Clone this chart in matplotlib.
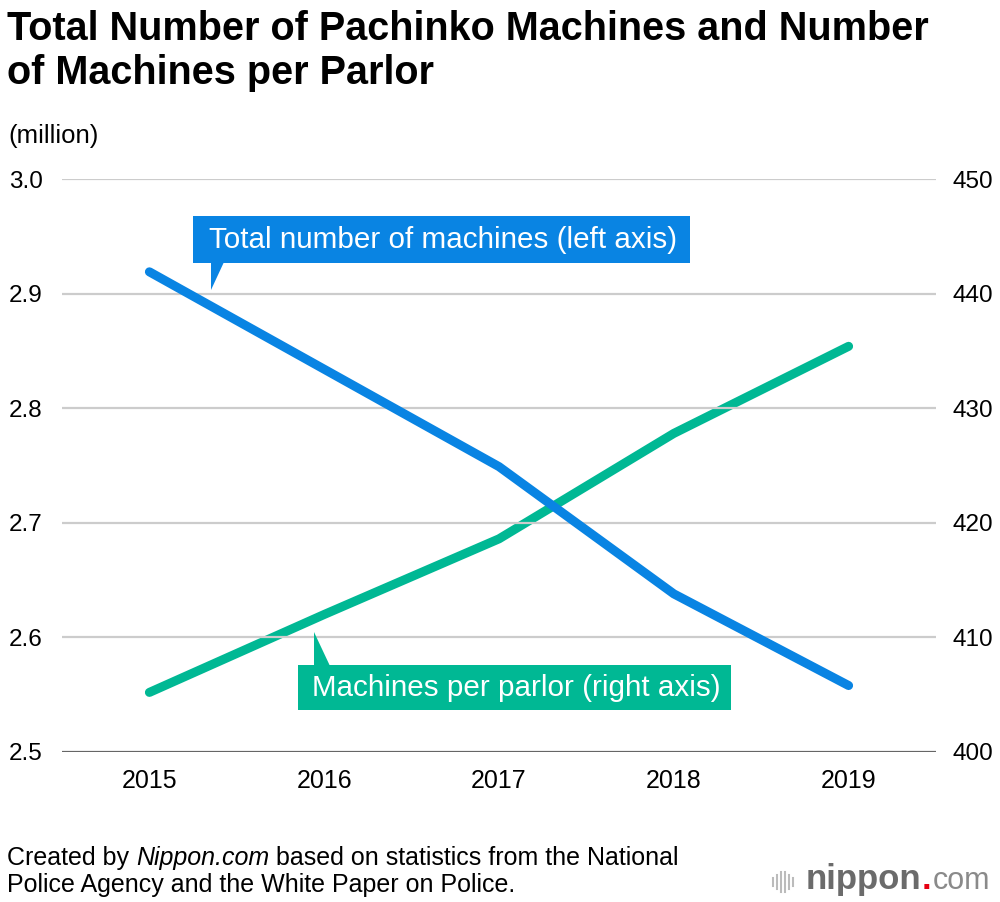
import matplotlib
matplotlib.use("Agg")
import matplotlib.pyplot as plt
from matplotlib.patches import Rectangle, Polygon

# data
years = [2015, 2016, 2017, 2018, 2019]
total_machines = [2.919, 2.834, 2.749, 2.638, 2.558]   # million, left axis
per_parlor = [405.2, 412.0, 418.6, 427.8, 435.4]        # right axis
left_ticks = [2.5, 2.6, 2.7, 2.8, 2.9, 3.0]
right_ticks = [400, 410, 420, 430, 440, 450]

BLUE = "#0984e3"
GREEN = "#00b894"
plt.rcParams["font.family"] = ["Liberation Sans", "DejaVu Sans"]

W, H = 1000, 902
fig = plt.figure(figsize=(W / 100, H / 100), dpi=100)


def fx(x):
    return x / W


def fy(y):
    return 1 - y / H


ax = fig.add_axes([fx(62), fy(752), fx(936) - fx(62), fy(179) - fy(752)])
ax2 = ax.twinx()

ax.set_xlim(2014.5, 2019.5)
ax.set_ylim(2.5, 3.0)
ax2.set_ylim(400, 450)

for v in left_ticks[1:]:
    ax.axhline(v, color="#cccccc", lw=1.6, zorder=0)
ax.axhline(2.5, color="#666666", lw=1.6, zorder=1)

ax.plot(years, total_machines, color=BLUE, lw=6.5, solid_capstyle="round",
        solid_joinstyle="round", zorder=3)
ax2.plot(years, per_parlor, color=GREEN, lw=6.5, solid_capstyle="round",
         solid_joinstyle="round", zorder=3)
ax.set_zorder(ax2.get_zorder() + 1)
ax.patch.set_visible(False)

ax.set_yticks(left_ticks)
ax.set_yticklabels([f"{v:.1f}" for v in left_ticks], fontsize=17.5)
ax2.set_yticks(right_ticks)
ax2.set_yticklabels([str(v) for v in right_ticks], fontsize=17.5)
ax.set_xticks(years)
ax.set_xticklabels([str(y) for y in years], fontsize=18)
ax.tick_params(axis="y", length=0, pad=14)
ax2.tick_params(axis="y", length=0, pad=12)
ax.tick_params(axis="x", length=0, pad=12)
for a in (ax, ax2):
    for s in a.spines.values():
        s.set_visible(False)

# title and labels
fig.text(fx(7), fy(40), "Total Number of Pachinko Machines and Number",
         fontsize=28.5, fontweight="bold", va="baseline")
fig.text(fx(7), fy(84), "of Machines per Parlor",
         fontsize=28.5, fontweight="bold", va="baseline")
fig.text(fx(8), fy(143), "(million)", fontsize=18.5, va="baseline")

# callout boxes
fig.patches.append(Rectangle((fx(193), fy(263)), fx(690) - fx(193), fy(216) - fy(263),
                             transform=fig.transFigure, color=BLUE, lw=0))
fig.patches.append(Polygon([(fx(211), fy(262)), (fx(224), fy(262)), (fx(211), fy(290))],
                           closed=True, transform=fig.transFigure, color=BLUE, lw=0))
fig.text(fx(443), fy(240), "Total number of machines (left axis)", color="white",
         fontsize=21.3, ha="center", va="center")

fig.patches.append(Rectangle((fx(298), fy(710)), fx(731) - fx(298), fy(665) - fy(710),
                             transform=fig.transFigure, color=GREEN, lw=0))
fig.patches.append(Polygon([(fx(314), fy(666)), (fx(330), fy(666)), (fx(314), fy(632))],
                           closed=True, transform=fig.transFigure, color=GREEN, lw=0))
fig.text(fx(516), fy(688), "Machines per parlor (right axis)", color="white",
         fontsize=21.3, ha="center", va="center")

# footer: pieces laid out one after another so "Nippon.com" can be italic
fig.canvas.draw()
renderer = fig.canvas.get_renderer()
x = 7
for piece, style in [("Created by ", "normal"), ("Nippon.com", "italic"),
                     (" based on statistics from the National", "normal")]:
    t = fig.text(fx(x), fy(865), piece, fontsize=18, style=style, va="baseline")
    x = t.get_window_extent(renderer).x1
fig.text(fx(7), fy(892), "Police Agency and the White Paper on Police.",
         fontsize=18, va="baseline")

# logo
bar_x = [773, 777, 781, 785, 789, 793]
bar_h = [8, 14, 20, 20, 14, 8]
for bx, h in zip(bar_x, bar_h):
    fig.lines.append(plt.Line2D([fx(bx), fx(bx)], [fy(882 + h / 2), fy(882 - h / 2)],
                                transform=fig.transFigure, color="#bbbbbb", lw=1.5))
t = fig.text(fx(806), fy(889), "nippon", fontsize=25, fontweight="bold",
             color="#6b6b6b", va="baseline")
bb = t.get_window_extent(renderer)
t2 = fig.text(bb.x1 / W, fy(889), ".", fontsize=25, fontweight="bold",
              color="#e60012", va="baseline")
bb2 = t2.get_window_extent(renderer)
fig.text(bb2.x1 / W + 0.001, fy(889), "com", fontsize=22, color="#8a8a8a", va="baseline")

fig.savefig("out.png", dpi=100, facecolor="white")
